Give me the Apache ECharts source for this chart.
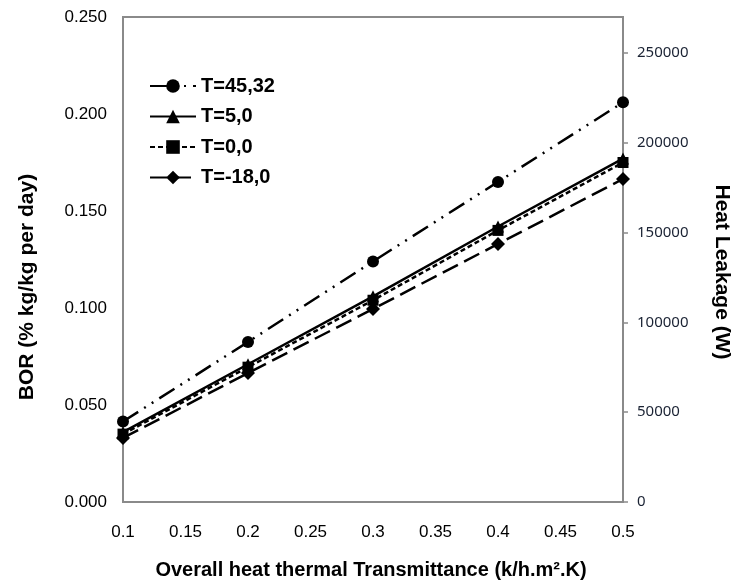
<!DOCTYPE html>
<html>
<head>
<meta charset="utf-8">
<script src="https://cdn.jsdelivr.net/npm/echarts@6/dist/echarts.min.js"></script>
<style>
html,body{margin:0;padding:0;background:#fff;}
#c{width:735px;height:586px;}
</style>
</head>
<body>
<div id="c"></div>
<script>
var xValues = [0.1, 0.2, 0.3, 0.4, 0.5];
var seriesNames = ['T=45,32', 'T=5,0', 'T=0,0', 'T=-18,0'];
var t45_32 = [0.0415, 0.0825, 0.124, 0.165, 0.206];
var t5_0 = [0.036, 0.071, 0.106, 0.142, 0.177];
var t0_0 = [0.035, 0.0695, 0.104, 0.140, 0.175];
var tm18_0 = [0.033, 0.0665, 0.0995, 0.133, 0.1665];
var leftTicks = { min: 0, max: 0.25, interval: 0.05 };
var rightTicks = { min: 0, max: 270000, interval: 50000 };

function pairs(vals) { return xValues.map(function (x, i) { return [x, vals[i]]; }); }

var chart = echarts.init(document.getElementById('c'));
var F = 'Arial, "Liberation Sans", sans-serif';
function mk(name, vals, symbol, size, dash) {
  return {
    name: name, type: 'line', data: pairs(vals), yAxisIndex: 0,
    symbol: symbol, symbolSize: size, showSymbol: true,
    lineStyle: { color: '#000', width: 2.5, type: dash },
    itemStyle: { color: '#000' },
    emphasis: { disabled: true }, animation: false
  };
}
chart.setOption({
  animation: false,
  grid: { left: 123, right: 112, top: 17, bottom: 84, show: true, borderColor: '#8a8a8a', borderWidth: 2, backgroundColor: 'transparent' },
  legend: {
    orient: 'vertical', left: 144, top: 71, itemWidth: 46, itemHeight: 17, itemGap: 10.5,
    textStyle: { fontFamily: F, fontWeight: 'bold', fontSize: 20, color: '#000' },
    data: seriesNames
  },
  xAxis: {
    type: 'value', min: 0.1, max: 0.5, interval: 0.05,
    axisLine: { show: true, lineStyle: { color: '#8a8a8a', width: 2 } },
    axisTick: { show: false }, splitLine: { show: false },
    axisLabel: { fontFamily: F, fontSize: 17, color: '#000', margin: 22 }
  },
  yAxis: [{
    type: 'value', min: leftTicks.min, max: leftTicks.max, interval: leftTicks.interval,
    axisLine: { show: true, lineStyle: { color: '#8a8a8a', width: 2 } },
    axisTick: { show: false }, splitLine: { show: false },
    axisLabel: { fontFamily: F, fontSize: 17, color: '#000', margin: 16, formatter: function (v) { return v.toFixed(3); } }
  }, {
    type: 'value', position: 'right', min: rightTicks.min, max: rightTicks.max, interval: rightTicks.interval,
    axisLine: { show: true, lineStyle: { color: '#8a8a8a', width: 2 } },
    axisTick: { show: true, length: 5, lineStyle: { color: '#8a8a8a', width: 1.5 } },
    splitLine: { show: false },
    axisLabel: { fontFamily: '"Noto Sans", sans-serif', fontSize: 15, color: '#1a2233', margin: 14, showMaxLabel: false,
      formatter: function (v) { return v > 250000 ? '' : String(v); } }
  }],
  series: [
    mk(seriesNames[0], t45_32, 'circle', 12, [18, 7, 2, 7, 2, 7]),
    mk(seriesNames[1], t5_0, 'triangle', 12, 'solid'),
    mk(seriesNames[2], t0_0, 'rect', 11, [5, 3]),
    mk(seriesNames[3], tm18_0, 'diamond', 14, [17, 7])
  ],
  graphic: [
    { type: 'text', x: 371, y: 570, style: { text: 'Overall heat thermal Transmittance (k/h.m\u00b2.K)', font: 'bold 20px ' + F, fill: '#000', align: 'center', verticalAlign: 'middle' } },
    { type: 'text', x: 27, y: 287, rotation: Math.PI / 2, style: { text: 'BOR (% kg/kg per day)', font: 'bold 21px ' + F, fill: '#000', align: 'center', verticalAlign: 'middle' } },
    { type: 'text', x: 722, y: 272, rotation: -Math.PI / 2, style: { text: 'Heat Leakage (W)', font: 'bold 21px ' + F, fill: '#000', align: 'center', verticalAlign: 'middle' } }
  ]
});
</script>
</body>
</html>
